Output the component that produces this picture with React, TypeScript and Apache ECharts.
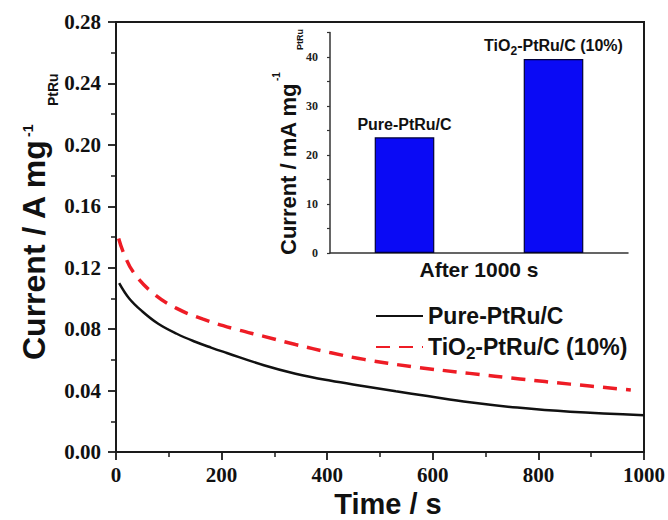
import React, { useEffect, useRef } from "react";
import * as echarts from "echarts";

// Main chart: chronoamperometry curves (Time / s vs Current / A mg-1 PtRu)
const pureTime = [6, 25, 50, 80, 115, 150, 180, 210, 280, 340, 405, 470, 530, 590, 670, 760, 860, 1000];
const pureCurrent = [0.110, 0.100, 0.0915, 0.0835, 0.077, 0.0718, 0.068, 0.0645, 0.0565, 0.0510, 0.0465, 0.0428, 0.0395, 0.0364, 0.0324, 0.0289, 0.0262, 0.0240];
const tioTime = [5, 14, 33, 70, 115, 165, 220, 280, 340, 405, 470, 560, 670, 765, 860, 975];
const tioCurrent = [0.139, 0.130, 0.117, 0.1035, 0.0935, 0.0865, 0.0806, 0.0753, 0.0700, 0.0648, 0.0603, 0.0556, 0.0512, 0.0476, 0.0442, 0.0404];

const seriesNames = ["Pure-PtRu/C", "TiO2-PtRu/C (10%)"];
const legendLabels = ["Pure-PtRu/C", "TiO{sub|2}-PtRu/C (10%)"];

// Inset: current after 1000 s (mA mg-1 PtRu)
const insetCategories = ["Pure-PtRu/C", "TiO2-PtRu/C (10%)"];
const insetLabels = ["Pure-PtRu/C", "TiO{sub|2}-PtRu/C (10%)"];
const insetCurrent = [23.6, 39.6];

const SANS = "Liberation Sans";
const SERIF = "Liberation Serif";

export default function App() {
  const ref = useRef<HTMLDivElement>(null);
  useEffect(() => {
    const chart = echarts.init(ref.current!, null, { renderer: "svg" });
    const zip = (xs: number[], ys: number[]) => xs.map((x, i) => [x, ys[i]]);
    const axisColor = "#1a1a1a";
    const rotText = (text: string, x: number, y: number, size: number) => ({
      type: "text", x, y, rotation: Math.PI / 2, silent: true,
      style: { text, align: "left", verticalAlign: "middle", fontFamily: SANS, fontWeight: "bold", fontSize: size, fill: "#111" },
    });
    const option: any = {
      animation: false,
      backgroundColor: "#fff",
      grid: [
        { left: 116, top: 22, width: 529, height: 430, show: true, borderColor: axisColor, borderWidth: 2, backgroundColor: "transparent" },
        { left: 330, top: 32.5, width: 298, height: 220.5 },
      ],
      xAxis: [
        {
          gridIndex: 0, type: "value", min: 0, max: 1000, interval: 200,
          axisLine: { show: true, lineStyle: { color: axisColor, width: 2 } },
          axisTick: { show: true, length: 8, lineStyle: { color: axisColor, width: 1.8 } },
          minorTick: { show: true, splitNumber: 2, length: 5, lineStyle: { color: axisColor, width: 1.5 } },
          splitLine: { show: false },
          axisLabel: { fontFamily: SERIF, fontWeight: "bold", fontSize: 21, color: "#111", margin: 12, formatter: (v: number) => String(v) },
        },
        {
          gridIndex: 1, type: "category", data: insetCategories,
          axisLine: { show: true, lineStyle: { color: "#333", width: 1.5 } },
          axisTick: { show: false },
          axisLabel: { show: false },
          name: "After 1000 s", nameLocation: "middle", nameGap: 6,
          nameTextStyle: { fontFamily: SANS, fontWeight: "bold", fontSize: 21, color: "#111", verticalAlign: "top" },
        },
      ],
      yAxis: [
        {
          gridIndex: 0, type: "value", min: 0, max: 0.28, interval: 0.04,
          axisLine: { show: true, lineStyle: { color: axisColor, width: 2 } },
          axisTick: { show: true, length: 8, lineStyle: { color: axisColor, width: 1.8 } },
          minorTick: { show: true, splitNumber: 2, length: 5, lineStyle: { color: axisColor, width: 1.5 } },
          splitLine: { show: false },
          axisLabel: { fontFamily: SERIF, fontWeight: "bold", fontSize: 21, color: "#111", margin: 15, formatter: (v: number) => v.toFixed(2) },
        },
        {
          gridIndex: 1, type: "value", min: 0, max: 45, interval: 5,
          axisLine: { show: true, lineStyle: { color: "#333", width: 1.5 } },
          axisTick: { show: true, length: 3, lineStyle: { color: "#333", width: 1.2 } },
          splitLine: { show: false },
          axisLabel: {
            fontFamily: SERIF, fontWeight: "bold", fontSize: 12, color: "#222", margin: 12,
            formatter: (v: number) => (v % 10 === 0 ? String(v) : ""),
          },
        },
      ],
      legend: {
        orient: "vertical", left: 370, top: 296, itemWidth: 47, itemHeight: 14, itemGap: 1,
        data: seriesNames,
        itemStyle: { color: "rgba(0,0,0,0)", borderColor: "rgba(0,0,0,0)", borderWidth: 0 },
        formatter: (name: string) => legendLabels[seriesNames.indexOf(name)],
        textStyle: {
          fontFamily: SANS, fontWeight: "bold", fontSize: 23, color: "#111", lineHeight: 30,
          rich: { sub: { fontFamily: SANS, fontWeight: "bold", fontSize: 17, color: "#111", lineHeight: 6, verticalAlign: "bottom" } },
        },
      },
      series: [
        {
          name: seriesNames[0], type: "line", xAxisIndex: 0, yAxisIndex: 0,
          data: zip(pureTime, pureCurrent), symbol: "none", showSymbol: false, smooth: 0.4,
          lineStyle: { color: "#111", width: 2.5 }, itemStyle: { color: "#111" },
        },
        {
          name: seriesNames[1], type: "line", xAxisIndex: 0, yAxisIndex: 0,
          data: zip(tioTime, tioCurrent), symbol: "none", showSymbol: false, smooth: 0.4,
          lineStyle: { color: "#ee1c25", width: 3.5, type: [14, 9] }, itemStyle: { color: "#ee1c25" },
        },
        {
          name: "inset", type: "bar", xAxisIndex: 1, yAxisIndex: 1,
          data: insetCurrent, barWidth: "40%",
          itemStyle: { color: "#0a0af5", borderColor: "#00003a", borderWidth: 1.2 },
          label: {
            show: true, position: "top", distance: 2,
            formatter: (p: any) => insetLabels[p.dataIndex],
            fontFamily: SANS, fontWeight: "bold", fontSize: 16, color: "#111", lineHeight: 22,
            rich: { sub: { fontFamily: SANS, fontWeight: "bold", fontSize: 12, color: "#111", lineHeight: 5, verticalAlign: "bottom" } },
          },
        },
      ],
      graphic: [
        rotText("Current / A mg", 34, 360, 32),
        rotText("-1", 28, 137, 14),
        rotText("PtRu", 53, 106, 14),
        rotText("Current / mA mg", 288, 255, 22),
        rotText("-1", 276.5, 81, 10),
        rotText("PtRu", 300, 50, 9),
        {
          type: "text", x: 388, y: 504, silent: true,
          style: { text: "Time / s", align: "center", verticalAlign: "middle", fontFamily: SANS, fontWeight: "bold", fontSize: 29, fill: "#111" },
        },
      ],
    };
    chart.setOption(option);
    return () => chart.dispose();
  }, []);
  return (
    <div
      ref={ref}
      style={{ position: "fixed", left: 0, top: 0, width: 668, height: 520, background: "#fff" }}
    />
  );
}
